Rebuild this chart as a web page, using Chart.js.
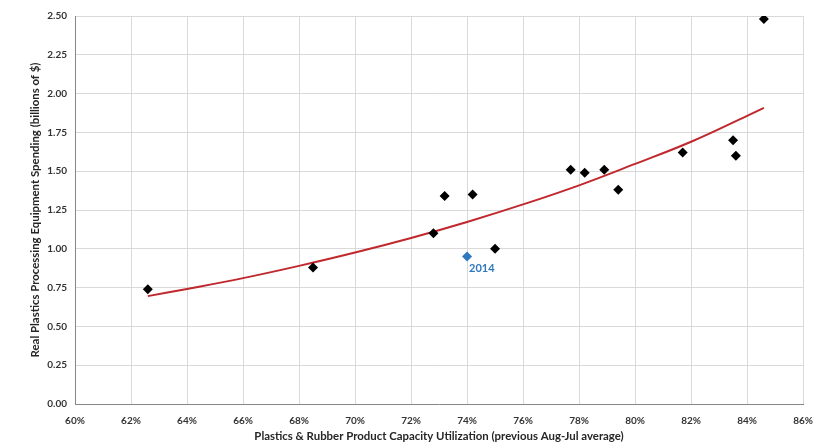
<!DOCTYPE html>
<html>
<head>
<meta charset="utf-8">
<script src="https://cdn.jsdelivr.net/npm/chart.js@4.4.1/dist/chart.umd.min.js"></script>
<style>
html,body{margin:0;padding:0;background:#fff;}
#wrap{width:824px;height:442px;position:relative;}
</style>
</head>
<body>
<div id="wrap"><canvas id="c" width="824" height="442"></canvas></div>
<script>
// Capacity utilization (%) and real spending (billions of $)
const utilization = [62.6, 68.5, 72.8, 73.2, 74.2, 75.0, 77.7, 78.2, 78.9, 79.4, 81.7, 83.5, 83.6, 84.6];
const spending    = [0.74, 0.88, 1.10, 1.34, 1.35, 1.00, 1.51, 1.49, 1.51, 1.38, 1.62, 1.70, 1.60, 2.48];
const highlightX = [74.0];
const highlightY = [0.95];
const highlightLabel = ["2014"];
// Trend curve
const trendX = [62.6, 64, 66, 68, 70, 72, 74, 76, 78, 80, 82, 84, 84.6];
const trendY = [0.695, 0.741, 0.811, 0.890, 0.976, 1.070, 1.173, 1.286, 1.409, 1.547, 1.690, 1.857, 1.908];
const xTicks = [60, 62, 64, 66, 68, 70, 72, 74, 76, 78, 80, 82, 84, 86];
const yTicks = [0, 0.25, 0.5, 0.75, 1, 1.25, 1.5, 1.75, 2, 2.25, 2.5];

const FONT = "Lato, 'Open Sans', 'Liberation Sans', sans-serif";

const pts = utilization.map((x, i) => ({x: x, y: spending[i]}));
const hpts = highlightX.map((x, i) => ({x: x, y: highlightY[i]}));
const tpts = trendX.map((x, i) => ({x: x, y: trendY[i]}));

const labelPlugin = {
  id: 'labels',
  afterDatasetsDraw(chart) {
    const ctx = chart.ctx;
    const xs = chart.scales.x, ys = chart.scales.y;
    ctx.save();
    ctx.fillStyle = '#2e78bd';
    ctx.font = "bold 11px " + FONT;
    ctx.textAlign = 'left';
    ctx.textBaseline = 'middle';
    hpts.forEach((p, i) => {
      ctx.fillText(highlightLabel[i], xs.getPixelForValue(p.x) + 2, ys.getPixelForValue(p.y) + 12);
    });
    // axis titles
    ctx.fillStyle = '#262626';
    ctx.font = "bold 11.4px " + FONT;
    ctx.textAlign = 'center';
    ctx.textBaseline = 'middle';
    const area = chart.chartArea;
    ctx.fillText('Plastics & Rubber Product Capacity Utilization (previous Aug-Jul average)', (area.left + area.right) / 2, 436);
    ctx.translate(35, (area.top + area.bottom) / 2);
    ctx.rotate(-Math.PI / 2);
    ctx.fillText('Real Plastics Processing Equipment Spending (billions of $)', 0, 0);
    ctx.restore();
  }
};

new Chart(document.getElementById('c'), {
  type: 'scatter',
  data: {
    datasets: [
      {
        type: 'line',
        data: tpts,
        borderColor: '#c0282d',
        borderWidth: 2,
        pointRadius: 0,
        tension: 0.4,
        fill: false,
        order: 2
      },
      {
        data: pts,
        pointStyle: 'rectRot',
        pointRadius: 5,
        backgroundColor: '#000',
        borderColor: '#000',
        borderWidth: 0,
        order: 1
      },
      {
        data: hpts,
        pointStyle: 'rectRot',
        pointRadius: 5,
        backgroundColor: '#2e78bd',
        borderColor: '#2e78bd',
        borderWidth: 0,
        order: 1
      }
    ]
  },
  options: {
    responsive: false,
    animation: false,
    devicePixelRatio: 1,
    layout: {padding: {left: 0, right: 19, top: 16, bottom: 0}},
    plugins: {legend: {display: false}, tooltip: {enabled: false}},
    scales: {
      x: {
        type: 'linear',
        min: 60, max: 86,
        afterBuildTicks(s) { s.ticks = xTicks.map(v => ({value: v})); },
        afterFit(s) { s.height = 38; },
        grid: {color: '#d9d9d9', lineWidth: 1, drawTicks: false},
        border: {color: '#868686', width: 1},
        ticks: {
          padding: 11,
          color: '#333333',
          font: {family: FONT, size: 10, weight: 'bold'},
          callback: v => v + '%'
        }
      },
      y: {
        min: 0, max: 2.5,
        afterBuildTicks(s) { s.ticks = yTicks.map(v => ({value: v})); },
        afterFit(s) { s.width = 75; },
        grid: {color: '#d9d9d9', lineWidth: 1, drawTicks: false},
        border: {color: '#868686', width: 1},
        ticks: {
          padding: 8,
          color: '#333333',
          font: {family: FONT, size: 10, weight: 'bold'},
          callback: v => v.toFixed(2)
        }
      }
    }
  },
  plugins: [labelPlugin]
});
</script>
</body>
</html>
